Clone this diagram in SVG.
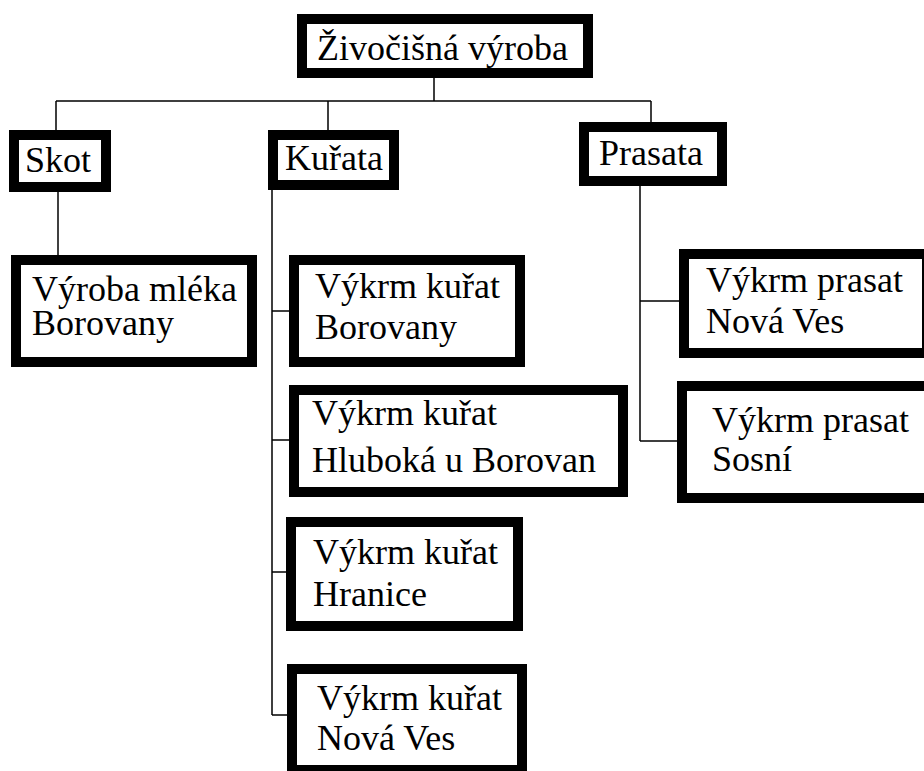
<svg xmlns="http://www.w3.org/2000/svg" width="924" height="771" viewBox="0 0 924 771">
<style>
.box{fill:#fff;stroke:#000;stroke-width:10}
text{font-family:'Liberation Serif','Times New Roman',serif;font-size:36px;fill:#000}
.c{stroke:#000;stroke-width:1.5;fill:none}
</style>
<rect width="924" height="771" fill="#fff"/>
<g id="connectors">
<path class="c" d="M434 78V101M56 101H651M56 101V130M328 101V130M651 101V122"/>
<path class="c" d="M58 192V255"/>
<path class="c" d="M272 190V715M272 311H289M272 440H289M272 572H286M272 715H287"/>
<path class="c" d="M640 186V441M640 301H679M640 441H677"/>
</g>
<g id="n-root"><rect class="box" x="302" y="19" width="286" height="54"/><text x="317" y="60">Živočišná výroba</text></g>
<g id="n-skot"><rect class="box" x="14" y="135" width="92" height="52"/><text x="25" y="172">Skot</text></g>
<g id="n-kurata"><rect class="box" x="273" y="135" width="121" height="50"/><text x="285" y="170">Kuřata</text></g>
<g id="n-prasata"><rect class="box" x="584" y="127" width="138" height="54"/><text x="599" y="165">Prasata</text></g>
<g id="n-mleko"><rect class="box" x="16" y="260" width="236" height="102"/><text x="32" y="301">Výroba mléka<tspan x="32" y="335">Borovany</tspan></text></g>
<g id="n-k-borovany"><rect class="box" x="294" y="260" width="226" height="102"/><text x="315" y="298">Výkrm kuřat<tspan x="315" y="339">Borovany</tspan></text></g>
<g id="n-k-hluboka"><rect class="box" x="294" y="390" width="329" height="102"/><text x="312" y="425">Výkrm kuřat<tspan x="312" y="472">Hluboká u Borovan</tspan></text></g>
<g id="n-k-hranice"><rect class="box" x="291" y="522" width="227" height="104"/><text x="313" y="564">Výkrm kuřat<tspan x="313" y="606">Hranice</tspan></text></g>
<g id="n-k-novaves"><rect class="box" x="292" y="669" width="230" height="101"/><text x="317" y="710">Výkrm kuřat<tspan x="317" y="750">Nová Ves</tspan></text></g>
<g id="n-p-novaves"><rect class="box" x="684" y="254" width="243" height="99"/><text x="706" y="292">Výkrm prasat<tspan x="706" y="333">Nová Ves</tspan></text></g>
<g id="n-p-sosni"><rect class="box" x="682" y="386" width="260" height="112"/><text x="712" y="432">Výkrm prasat<tspan x="712" y="471">Sosní</tspan></text></g>
</svg>
